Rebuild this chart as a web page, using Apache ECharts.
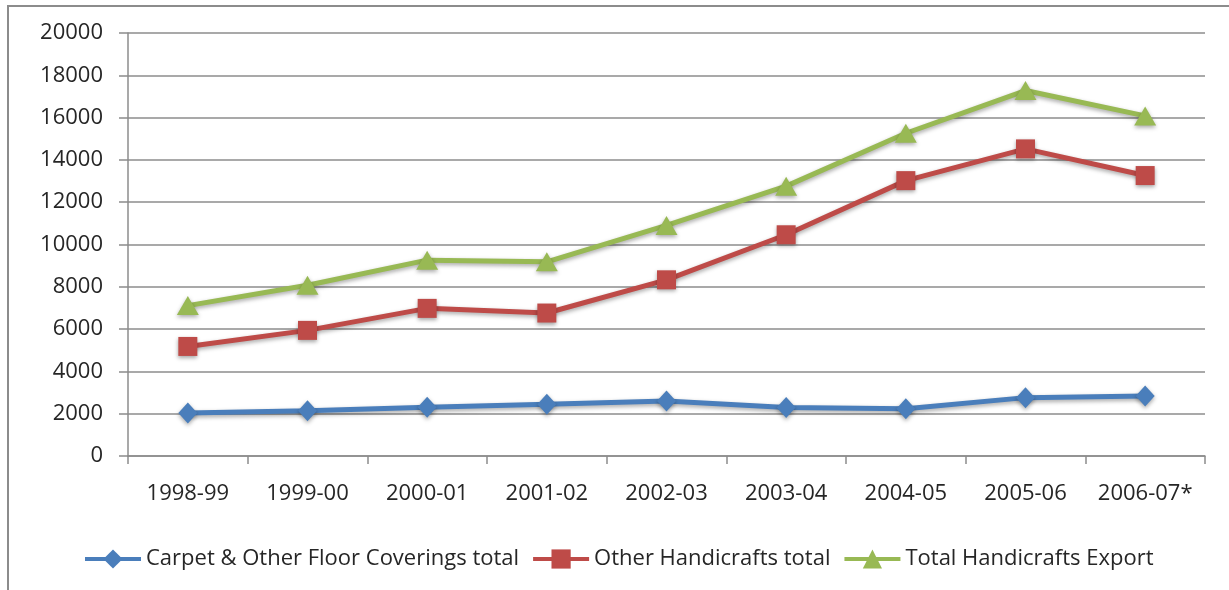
<!DOCTYPE html>
<html>
<head>
<meta charset="utf-8">
<script src="https://cdn.jsdelivr.net/npm/echarts@6/dist/echarts.min.js"></script>
<style>
  html, body { margin: 0; padding: 0; background: #fff; }
  #chart { width: 1229px; height: 590px; }
</style>
</head>
<body>
<div id="chart"></div>
<script>
const years = ['1998-99', '1999-00', '2000-01', '2001-02', '2002-03', '2003-04', '2004-05', '2005-06', '2006-07*']
const carpet = [2030, 2140, 2310, 2450, 2600, 2290, 2230, 2760, 2840]
const otherCrafts = [5180, 5940, 6980, 6760, 8330, 10460, 13020, 14520, 13260]
const totalExport = [7110, 8070, 9260, 9180, 10900, 12760, 15260, 17280, 16080]

const font = '"Open Sans", "Liberation Sans", sans-serif'
const gray = '#8c8c8c'
const shadow = { shadowColor: 'rgba(0,0,0,0.35)', shadowBlur: 4, shadowOffsetY: 2 }

const mkSeries = (name, data, color, symbol, size) => ({
  name,
  type: 'line',
  data,
  symbol,
  symbolSize: size,
  color,
  lineStyle: { width: 5, color, ...shadow },
  itemStyle: { color, ...shadow },
  emphasis: { disabled: true },
  animation: false
})

const chart = echarts.init(document.getElementById('chart'))
chart.setOption({
  animation: false,
  textStyle: { fontFamily: font },
  graphic: [{
    type: 'rect',
    shape: { x: 8, y: 6, width: 1300, height: 700 },
    style: { fill: 'none', stroke: gray, lineWidth: 2 },
    silent: true
  }],
  grid: { left: 128, right: 24, top: 33, bottom: 134 },
  legend: {
    left: 78,
    top: 543,
    itemWidth: 56,
    itemHeight: 24,
    itemGap: 12,
    lineStyle: { width: 4 },
    textStyle: { fontFamily: font, fontSize: 22, color: '#262626' },
    data: ['Carpet & Other Floor Coverings total', 'Other Handicrafts total', 'Total Handicrafts Export']
  },
  xAxis: {
    type: 'category',
    data: years,
    boundaryGap: true,
    axisLine: { lineStyle: { color: gray, width: 1.5 } },
    axisTick: { show: true, length: 8, lineStyle: { color: gray, width: 1.5 } },
    axisLabel: { fontFamily: font, fontSize: 22, color: '#262626', margin: 27, interval: 0 },
    splitLine: { show: false }
  },
  yAxis: {
    type: 'value',
    min: 0,
    max: 20000,
    interval: 2000,
    axisLine: { show: true, lineStyle: { color: gray, width: 1.5 } },
    axisTick: { show: true, length: 9, lineStyle: { color: gray, width: 1.5 } },
    axisLabel: { fontFamily: font, fontSize: 22, color: '#262626', margin: 25, formatter: v => String(v) },
    splitLine: { lineStyle: { color: gray, width: 1.5 } }
  },
  series: [
    mkSeries('Carpet & Other Floor Coverings total', carpet, '#4a7ebb', 'diamond', [19, 21]),
    mkSeries('Other Handicrafts total', otherCrafts, '#be4b48', 'rect', 19),
    mkSeries('Total Handicrafts Export', totalExport, '#98b954', 'triangle', [22, 19])
  ]
})
</script>
</body>
</html>
